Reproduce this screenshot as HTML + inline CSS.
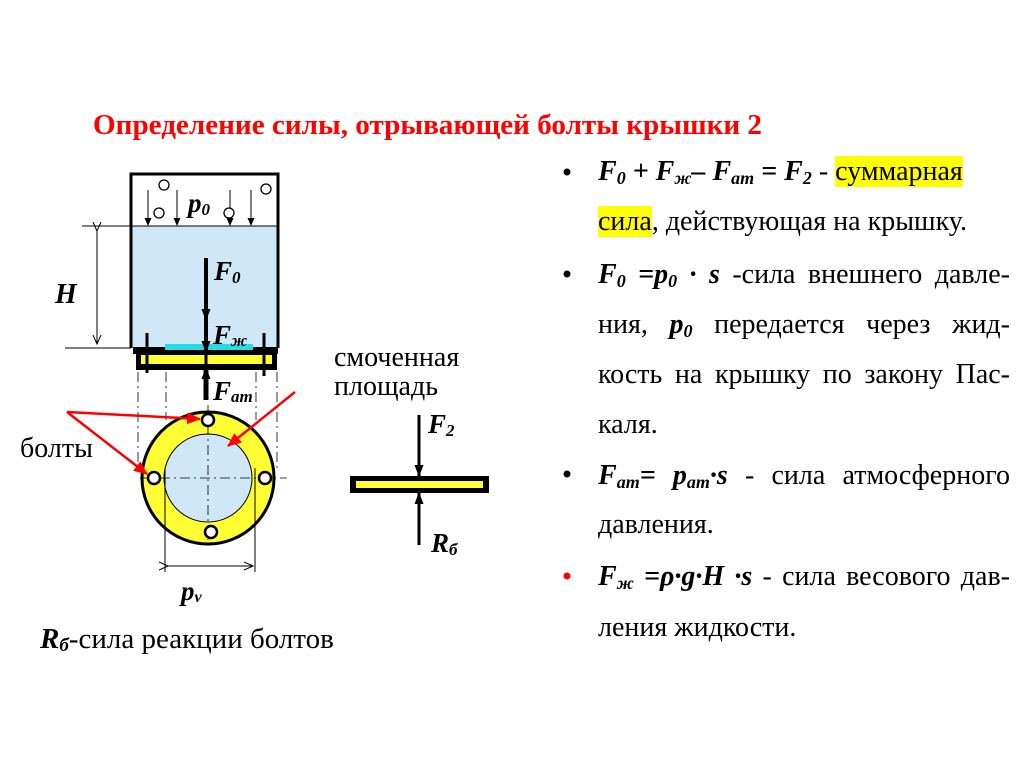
<!DOCTYPE html>
<html><head><meta charset="utf-8"><style>
html,body{margin:0;padding:0;background:#fff;width:1024px;height:767px;overflow:hidden;position:relative}
svg{display:block;position:absolute;left:0;top:0}
text{font-family:"Liberation Serif","DejaVu Serif",serif}
.b{font-weight:bold;font-style:italic}
.ln{position:absolute;left:598px;width:412px;font-family:"Liberation Serif","DejaVu Serif",serif;font-size:28px;line-height:32px;white-space:nowrap;color:#000}
.j{text-align:justify;text-align-last:justify}
.s{font-size:18px;vertical-align:-4px}
.hl{background:#ffff00}
</style></head><body>
<svg width="1024" height="767" viewBox="0 0 1024 767" xmlns="http://www.w3.org/2000/svg">
<defs>
<marker id="ah" markerWidth="12" markerHeight="12" refX="11" refY="6" orient="auto" markerUnits="userSpaceOnUse"><path d="M0,1.5 L12,6 L0,10.5 Z" fill="#000"/></marker>
<marker id="ahs" markerWidth="8" markerHeight="8" refX="7" refY="4" orient="auto" markerUnits="userSpaceOnUse"><path d="M0,0.5 L8,4 L0,7.5 Z" fill="#000"/></marker>
<marker id="ahr" markerWidth="14" markerHeight="12" refX="13" refY="6" orient="auto" markerUnits="userSpaceOnUse"><path d="M0,0 L14,6 L0,12 Z" fill="#f00"/></marker>
<marker id="ao" markerWidth="10" markerHeight="10" refX="9" refY="5" orient="auto" markerUnits="userSpaceOnUse"><path d="M0,1 L9,5 L0,9" fill="none" stroke="#000" stroke-width="1"/></marker>
</defs>

<text x="93" y="134" font-size="29" font-weight="bold" fill="#f00" textLength="669" lengthAdjust="spacingAndGlyphs">Определение силы, отрывающей болты крышки 2</text>

<rect x="131" y="226" width="147" height="122" fill="#cfe7f7"/>
<path d="M131,348 V174 H278 V348" fill="none" stroke="#000" stroke-width="3"/>
<line x1="82" y1="226" x2="278" y2="226" stroke="#000" stroke-width="1"/>
<line x1="65" y1="348" x2="131" y2="348" stroke="#000" stroke-width="1"/>
<line x1="97" y1="231" x2="97" y2="344" stroke="#000" stroke-width="1" marker-end="url(#ao)" marker-start="url(#ao)"/>
<text x="55" y="303" font-size="28" class="b">H</text>
<line x1="148" y1="190" x2="148" y2="225" stroke="#000" marker-end="url(#ahs)"/>
<line x1="177" y1="190" x2="177" y2="225" stroke="#000" marker-end="url(#ahs)"/>
<line x1="230" y1="190" x2="230" y2="225" stroke="#000" marker-end="url(#ahs)"/>
<line x1="251" y1="190" x2="251" y2="225" stroke="#000" marker-end="url(#ahs)"/>
<g fill="#fff" stroke="#000" stroke-width="1.3">
<circle cx="164" cy="185" r="5"/><circle cx="159" cy="213" r="5"/><circle cx="229" cy="213" r="5"/><circle cx="266" cy="189" r="5"/>
</g>
<text x="188" y="212" font-size="27" class="b">p<tspan font-size="17" dy="3">0</tspan></text>

<rect x="165" y="344" width="88" height="7" fill="#22dde8"/>
<rect x="133" y="347" width="32" height="7" fill="#000"/>
<rect x="253" y="347" width="25" height="7" fill="#000"/>
<rect x="136" y="350" width="141" height="20" fill="#000"/>
<rect x="141" y="355" width="131" height="9" fill="#ffff33"/>
<line x1="147" y1="333" x2="147" y2="373" stroke="#000" stroke-width="3"/>
<line x1="264" y1="333" x2="264" y2="376" stroke="#000" stroke-width="3"/>
<line x1="206" y1="333" x2="206" y2="374" stroke="#000" stroke-width="3"/>
<line x1="206" y1="258" x2="206" y2="320" stroke="#000" stroke-width="4" marker-end="url(#ah)"/>
<line x1="206" y1="320" x2="206" y2="352" stroke="#000" stroke-width="4" marker-end="url(#ah)"/>
<line x1="206" y1="400" x2="206" y2="368" stroke="#000" stroke-width="5" marker-end="url(#ah)"/>
<text x="214" y="280" font-size="27" class="b">F<tspan font-size="17" dy="3">0</tspan></text>
<text x="213" y="344" font-size="27" class="b">F<tspan font-size="17" dy="2">ж</tspan></text>
<text x="213" y="400" font-size="27" class="b">F<tspan font-size="17" dy="2">am</tspan></text>
<g stroke="#000" stroke-width="0.8" stroke-dasharray="10,4,2,4">
<line x1="138" y1="372" x2="138" y2="470"/><line x1="166" y1="372" x2="166" y2="420"/>
<line x1="256" y1="372" x2="256" y2="420"/><line x1="277" y1="372" x2="277" y2="470"/>
</g>
<circle cx="208" cy="478" r="66" fill="#ffff33" stroke="#000" stroke-width="3"/>
<circle cx="208" cy="478" r="44" fill="#cfe7f7" stroke="#000" stroke-width="1"/>
<g stroke="#000" stroke-width="0.8" stroke-dasharray="10,4,2,4">
<line x1="208" y1="405" x2="208" y2="540"/><line x1="140" y1="478" x2="287" y2="478"/>
</g>
<g fill="#fff" stroke="#000" stroke-width="2.5">
<circle cx="208" cy="420" r="6"/><circle cx="154" cy="478" r="6"/><circle cx="265" cy="478" r="6"/><circle cx="211" cy="532" r="6"/>
</g>
<line x1="165" y1="468" x2="165" y2="572" stroke="#000" stroke-width="1"/>
<line x1="255" y1="468" x2="255" y2="572" stroke="#000" stroke-width="1"/>
<line x1="168" y1="566" x2="253" y2="566" stroke="#000" marker-start="url(#ao)" marker-end="url(#ao)"/>
<text x="181" y="600" font-size="27" class="b">p<tspan font-size="16" dy="2">v</tspan></text>

<line x1="67" y1="412" x2="200" y2="419" stroke="#f00" stroke-width="2.5" marker-end="url(#ahr)"/>
<line x1="67" y1="412" x2="147" y2="474" stroke="#f00" stroke-width="2.5" marker-end="url(#ahr)"/>
<line x1="295" y1="392" x2="228" y2="446" stroke="#f00" stroke-width="2.5" marker-end="url(#ahr)"/>
<text x="20" y="457" font-size="28">болты</text>
<text x="334" y="366" font-size="28">смоченная</text>
<text x="334" y="395" font-size="28">площадь</text>

<rect x="350" y="476" width="139" height="17" fill="#000"/>
<rect x="356" y="481" width="127" height="7" fill="#ffff33"/>
<line x1="419" y1="415" x2="419" y2="476" stroke="#000" stroke-width="3" marker-end="url(#ah)"/>
<line x1="419" y1="545" x2="419" y2="493" stroke="#000" stroke-width="3" marker-end="url(#ah)"/>
<text x="428" y="433" font-size="27" class="b">F<tspan font-size="17" dy="3">2</tspan></text>
<text x="431" y="552" font-size="27" class="b">R<tspan font-size="17" dy="3">б</tspan></text>

<text x="40" y="648" font-size="29"><tspan class="b">R<tspan font-size="19" dy="3">б</tspan></tspan><tspan dy="-3">-сила реакции болтов</tspan></text>

<circle cx="567" cy="172" r="3.5" fill="#000"/>
<circle cx="567" cy="274" r="3.5" fill="#000"/>
<circle cx="567" cy="474" r="3.5" fill="#000"/>
<circle cx="567" cy="576" r="3.5" fill="#f00"/>
</svg>

<div class="ln" style="top:156px;width:372px"><span class="b">F<span class="s">0</span> + F<span class="s">ж</span>– F<span class="s">am</span> = F<span class="s">2</span></span> - <span class="hl">суммарная</span></div>
<div class="ln" style="top:206px"><span class="hl">сила</span>, действующая на крышку.</div>
<div class="ln j" style="top:259px"><span class="b">F<span class="s">0</span> =p<span class="s">0</span> · s</span> -сила внешнего давле-</div>
<div class="ln j" style="top:309px">ния, <span class="b">p<span class="s">0</span></span> передается через жид-</div>
<div class="ln j" style="top:359px">кость на крышку по закону Пас-</div>
<div class="ln" style="top:409px">каля.</div>
<div class="ln j" style="top:460px"><span class="b">F<span class="s">am</span>= p<span class="s">am</span>·s</span> - сила атмосферного</div>
<div class="ln" style="top:509px">давления.</div>
<div class="ln j" style="top:561px"><span class="b">F<span class="s">ж</span> =ρ·g·H ·s</span> - сила весового дав-</div>
<div class="ln" style="top:612px">ления жидкости.</div>
</body></html>
